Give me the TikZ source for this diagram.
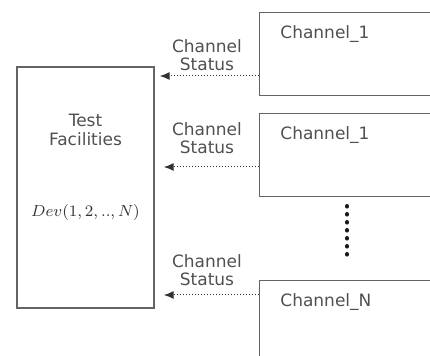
\documentclass[tikz,border=0pt]{standalone}
\usepackage{fontspec}
\setmainfont{DejaVu Sans}
\definecolor{txtgray}{RGB}{80,80,80}
\definecolor{linegray}{RGB}{100,100,100}
\definecolor{arrgray}{RGB}{50,50,50}
\usetikzlibrary{positioning,arrows.meta}

\begin{document}
\begin{tikzpicture}[x=0.5pt,y=-0.5pt,
    every node/.style={text=txtgray,font=\fontsize{8.5}{9.3}\selectfont},
    tfbox/.style={draw=linegray,line width=0.75pt,inner sep=0pt,
      minimum width=68.5pt,minimum height=120.5pt},
    chbox/.style={draw=linegray,line width=0.75pt,inner sep=0pt,anchor=north west,
      minimum width=110pt,minimum height=41.5pt},
    status/.style={align=center},
    link/.style={draw=arrgray,densely dotted,line width=0.5pt,
      -{Latex[length=5pt,width=4pt]}}
    ]
    \clip (0,0) rectangle (430,356);

    % the test facilities
    \node[tfbox] (tf) at (85.5,187.5) {};
    \node[align=center] (tfname) at (85.5,130) {Test\\Facilities};
    \node[text=black!80,font=\fontsize{8.3}{9}\selectfont] (dev) at (85.5,213) {$Dev(1,2,..,N)$};

    % the channels and their status
    \foreach \i/\top/\chlabel/\ay/\ly/\gap in
      {1/12/Channel\_1/76/55/2.5pt,
       2/113/Channel\_1/167/138/4.5pt,
       3/280/Channel\_N/295/270/4.5pt} {
    \node[chbox] (ch\i) at (259,\top) {};
    \node[anchor=north west,inner sep=0pt] (ch\i name)
      at ([xshift=10.5pt,yshift=-6.5pt]ch\i.north west) {\chlabel};
    \path (ch\i.north west) ++(0,{\ay-\top}) coordinate (out\i);
    \draw[link,shorten >=\gap] (out\i) -- (out\i -| tf.east);
    \node[status] (st\i) at (207,\ly) {Channel\\Status};
    }

    % the dots between the channels
    \coordinate (dtop) at (347,206);
    \coordinate (dbot) at (347,261);
    \draw[draw=black!90,line width=2pt,line cap=round,dash pattern=on 0.3pt off 3.7pt]
      (dtop) -- (dbot);
\end{tikzpicture}
\end{document}
